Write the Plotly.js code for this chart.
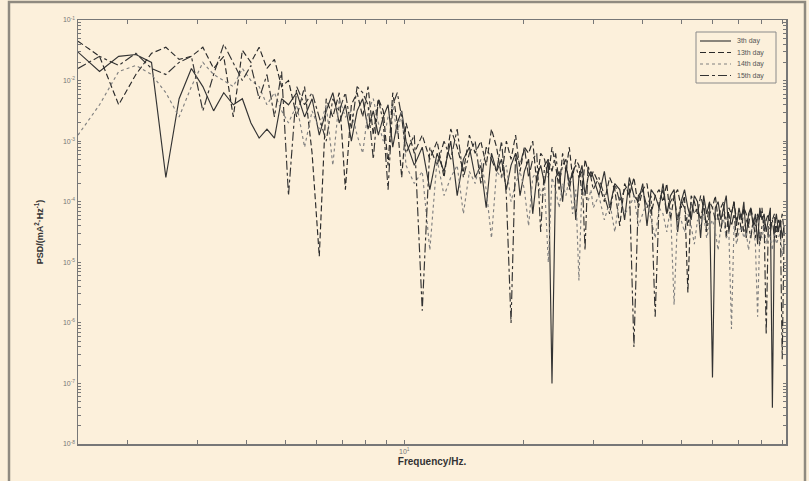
<!DOCTYPE html>
<html>
<head>
<meta charset="utf-8">
<script src="https://cdn.plot.ly/plotly-3.0.1.min.js"></script>
<style>html,body{margin:0;padding:0;background:#fcf0db;}#chart{width:809px;height:481px;}</style>
</head>
<body>
<div id="chart"></div>
<script>
// Frequency grid (Hz)
const freq = [
  1.5,1.7,1.9,2.1,2.3,2.5,2.7,2.9,3.1,3.3,3.5,3.7,3.9,4.1,4.3,4.5,4.7,4.9,
  5.1,5.35,5.6,5.85,6.1,6.35,6.6,6.85,7.1,7.35,7.6,7.85,8.1,8.35,8.6,8.85,9.1,9.35,9.6,9.85,
  10.1,10.6,11.1,11.6,12.1,12.6,13.1,13.6,14.1,14.6,15.1,15.6,16.1,16.6,17.1,17.6,18.1,18.6,19.1,19.6,
  20.1,20.6,21.1,21.6,22.1,22.6,23.1,23.6,24.1,24.6,25.1,25.6,26.1,26.6,27.1,27.6,28.1,28.6,29.1,29.6,
  30,31,32,33,34,35,36,37,38,39,40,41,42,43,44,45,46,47,48,49,50,51,52,53,54,55,56,57,58,59,
  60,61,62,63,64,65,66,67,68,69,70,71,72,73,74,75,76,77,78,79,80,81,82,83,84,85,86,87,88,89,90,91
];

// PSD values stored as log10 exponents
const day3_log10 = [
  -1.53,-1.85,-1.6,-1.57,-1.7,-3.6,-2.3,-1.8,-2.1,-2.5,-2.2,-2.4,-2.3,-2.7,-2.95,-2.8,-2.95,-2.3,
  -2.4,-2.2,-2.6,-2.3,-2.9,-2.5,-2.2,-2.7,-2.4,-3.0,-2.5,-2.3,-2.8,-2.5,-2.9,-2.6,-2.4,-3.1,-2.7,-2.5,
  -3.0,-3.4,-3.1,-3.8,-3.2,-3.5,-3.0,-3.9,-3.3,-3.1,-3.6,-3.4,-4.1,-3.2,-3.5,-3.3,-3.8,-3.4,-3.2,-3.9,
  -3.5,-3.3,-4.2,-3.6,-3.4,-3.7,-3.3,-7.0,-3.6,-3.5,-4.0,-3.4,-3.7,-3.5,-4.3,-3.6,-3.4,-3.9,-3.6,-3.5,
  -3.6,-3.9,-3.5,-4.1,-3.7,-3.8,-4.3,-3.6,-3.9,-4.0,-3.7,-4.4,-3.8,-3.9,-4.1,-3.7,-4.2,-3.9,-3.8,-4.5,
  -4.0,-3.8,-4.1,-4.3,-3.9,-4.0,-4.6,-3.9,-4.2,-4.0,-6.9,-4.1,-4.0,-4.3,-4.1,-3.9,-4.5,-4.2,-4.0,-4.4,
  -4.1,-4.3,-4.0,-4.6,-4.2,-4.1,-4.4,-4.2,-4.7,-4.1,-4.3,-4.2,-4.5,-4.3,-4.1,-7.4,-4.4,-4.2,-4.5,-4.3,-4.6,-4.4
];
const day13_log10 = [
  -1.35,-1.6,-2.4,-1.9,-1.55,-1.45,-1.65,-1.6,-1.45,-1.8,-1.6,-2.6,-1.5,-1.7,-1.45,-1.8,-1.65,-2.1,
  -2.0,-2.6,-2.1,-3.2,-4.9,-2.3,-2.6,-2.2,-3.8,-2.4,-2.2,-2.6,-2.1,-2.9,-2.3,-2.5,-3.4,-2.2,-2.7,-3.6,
  -2.7,-3.2,-2.9,-3.3,-3.0,-3.6,-2.8,-3.1,-3.5,-2.9,-3.2,-3.0,-3.4,-2.8,-3.1,-3.6,-3.0,-3.3,-2.9,-3.5,
  -3.1,-3.2,-3.0,-3.7,-3.2,-3.3,-3.6,-3.1,-3.4,-3.8,-3.2,-3.5,-3.1,-3.6,-3.3,-3.4,-3.9,-3.3,-3.5,-3.6,
  -3.5,-3.7,-4.0,-3.6,-3.8,-4.4,-3.7,-3.9,-3.6,-4.1,-3.8,-3.7,-4.2,-3.9,-3.8,-4.0,-3.7,-4.3,-3.9,-3.8,
  -4.1,-3.9,-5.5,-3.9,-4.0,-4.2,-3.9,-4.1,-4.4,-4.0,-4.1,-3.9,-4.3,-4.1,-4.0,-4.6,-4.1,-4.2,-4.0,-4.3,
  -4.2,-4.5,-4.1,-4.2,-4.4,-4.1,-4.3,-4.6,-4.2,-4.3,-4.1,-4.5,-4.3,-4.2,-4.4,-4.3,-4.2,-4.6,-4.3,-4.4,-4.2,-4.5
];
const day14_log10 = [
  -2.9,-2.4,-1.85,-1.75,-1.9,-2.2,-2.6,-2.1,-1.7,-1.9,-2.0,-2.1,-1.8,-2.0,-2.1,-2.4,-2.2,-2.5,
  -2.7,-2.4,-3.1,-2.5,-2.8,-2.4,-3.4,-2.3,-2.6,-2.5,-2.9,-3.2,-2.5,-2.3,-2.7,-3.0,-2.6,-2.4,-2.9,-2.5,
  -3.4,-3.7,-3.5,-4.8,-3.3,-3.9,-3.6,-3.4,-4.2,-3.5,-3.7,-3.3,-3.8,-4.6,-3.5,-3.6,-3.4,-4.0,-3.7,-3.5,
  -3.8,-4.4,-3.6,-3.5,-3.9,-3.7,-5.0,-3.6,-3.8,-4.1,-3.7,-3.9,-3.6,-4.2,-3.8,-5.3,-3.7,-3.9,-4.0,-3.8,
  -4.1,-3.9,-4.3,-4.0,-4.5,-3.9,-4.2,-4.1,-3.9,-4.4,-4.2,-4.0,-4.3,-4.6,-4.1,-4.2,-4.5,-4.1,-5.7,-4.2,
  -4.3,-4.5,-4.2,-4.4,-4.7,-4.3,-4.4,-4.2,-4.6,-4.4,-4.3,-4.5,-4.8,-4.4,-4.3,-4.6,-4.5,-6.1,-4.4,-4.7,
  -4.5,-4.4,-4.6,-4.5,-4.8,-4.5,-4.4,-4.7,-5.9,-4.5,-4.6,-4.4,-4.7,-4.5,-4.6,-4.8,-4.5,-4.7,-4.6,-4.5,-4.9,-4.6
];
const day15_log10 = [
  -1.8,-1.6,-1.75,-1.55,-1.8,-1.9,-1.7,-1.6,-2.5,-1.9,-1.4,-1.7,-2.0,-1.75,-2.3,-1.9,-2.6,-1.85,
  -3.9,-2.1,-2.4,-2.2,-2.6,-3.0,-2.3,-2.5,-2.2,-2.8,-2.1,-2.2,-2.4,-3.3,-2.3,-2.7,-3.8,-2.4,-2.2,-2.6,
  -3.2,-2.9,-5.8,-3.1,-3.4,-3.0,-3.3,-2.8,-3.6,-3.2,-3.0,-3.7,-3.1,-3.3,-3.5,-3.0,-3.9,-6.0,-3.2,-3.4,
  -3.1,-3.6,-3.3,-3.2,-4.5,-3.4,-3.3,-3.5,-3.2,-3.7,-3.4,-3.3,-3.8,-3.5,-3.4,-3.6,-3.5,-4.8,-3.4,-3.6,
  -3.8,-3.6,-3.9,-4.2,-3.7,-4.0,-3.8,-3.7,-6.4,-3.9,-3.8,-4.1,-3.9,-5.9,-4.0,-3.8,-4.2,-4.0,-3.9,-4.3,
  -4.0,-4.1,-4.4,-4.0,-4.2,-4.1,-4.3,-4.0,-4.5,-4.2,-4.1,-4.3,-4.2,-4.5,-4.1,-4.3,-4.2,-4.4,-4.2,-4.6,
  -4.3,-4.2,-4.5,-4.3,-4.4,-4.6,-4.3,-4.4,-4.2,-4.7,-4.4,-4.3,-6.2,-4.4,-4.5,-4.3,-4.6,-4.4,-4.5,-4.3,-6.6,-4.5
];

const seriesNames = ['3th day','13th day','14th day','15th day'];

const yTickVals = [1e-1,1e-2,1e-3,1e-4,1e-5,1e-6,1e-7,1e-8];
const yTickText = ['10<sup>-1</sup>','10<sup>-2</sup>','10<sup>-3</sup>','10<sup>-4</sup>','10<sup>-5</sup>','10<sup>-6</sup>','10<sup>-7</sup>','10<sup>-8</sup>'];
const xTickVals = [10];
const xTickText = ['10<sup>1</sup>'];
const xMinorVals = [2,3,4,5,6,7,8,9,20,30,40,50,60,70,80,90];

const toLin = a => a.map(v => Math.pow(10, v));

const styles = [
  {color:'#333333', dash:'solid', width:1.15},
  {color:'#2a2a2a', dash:'6px,3px', width:1.15},
  {color:'#808080', dash:'dot', width:1.15},
  {color:'#333333', dash:'dashdot', width:1.15}
];
const ys = [day3_log10, day13_log10, day14_log10, day15_log10];

const traces = ys.map((y, i) => ({
  x: freq, y: toLin(y), type: 'scatter', mode: 'lines',
  name: seriesNames[i], line: styles[i], showlegend: false
}));

// y minor tick positions (2..9 per decade) -> merged with majors, blank labels
const yMinorVals = [];
for (let e = -8; e < -1; e++) for (let m = 2; m <= 9; m++) yMinorVals.push(m * Math.pow(10, e));
const yAllVals = yTickVals.concat(yMinorVals);
const yAllText = yTickText.concat(yMinorVals.map(() => ''));
const xAllVals = xTickVals.concat(xMinorVals);
const xAllText = xTickText.concat(xMinorVals.map(() => ''));

// compact legend drawn in pixel-based paper coordinates
const L = 78, T = 20, W = 708, H = 424;
const px = x => (x - L) / W;
const py = y => (T + H - y) / H;
const legendRows = [41, 52.5, 64, 75.5];
const font = 'Liberation Sans, Arial, sans-serif';
const shapes = [{
  type: 'rect', xref: 'paper', yref: 'paper',
  x0: px(9), x1: px(805), y0: py(495), y1: py(2),
  line: {color: '#8f8a80', width: 2.5}, fillcolor: 'rgba(0,0,0,0)', layer: 'below'
}, {
  type: 'rect', xref: 'paper', yref: 'paper',
  x0: px(696), x1: px(776), y0: py(83), y1: py(32),
  line: {color: '#8a8a8a', width: 1}, fillcolor: '#fcf0db'
}];
const annotations = [];
legendRows.forEach((ry, i) => {
  shapes.push({type: 'line', xref: 'paper', yref: 'paper',
    x0: px(700), x1: px(731), y0: py(ry), y1: py(ry), line: styles[i]});
  annotations.push({xref: 'paper', yref: 'paper', x: px(735), y: py(ry),
    xanchor: 'left', yanchor: 'middle', showarrow: false, text: seriesNames[i],
    font: {family: font, size: 7, color: '#555'}});
});

const layout = {
  width: 809, height: 481,
  paper_bgcolor: '#fcf0db', plot_bgcolor: '#fcf0db',
  margin: {l: 78, r: 23, t: 20, b: 37},
  showlegend: false,
  xaxis: {
    type: 'log', range: [Math.log10(1.5), Math.log10(92)],
    tickmode: 'array', tickvals: xAllVals, ticktext: xAllText,
    ticks: 'inside', ticklen: 4, tickcolor: '#777',
    showline: true, linecolor: '#777', linewidth: 1.5, mirror: 'ticks',
    showgrid: false, zeroline: false,
    tickfont: {family: font, size: 7, color: '#777'},
    title: {text: '<b>Frequency/Hz.</b>', standoff: 4,
      font: {family: font, size: 10, color: '#333'}}
  },
  yaxis: {
    type: 'log', range: [-8, -1],
    tickmode: 'array', tickvals: yAllVals, ticktext: yAllText,
    ticks: 'inside', ticklen: 3, tickcolor: '#777',
    showline: true, linecolor: '#777', linewidth: 1.5, mirror: 'ticks',
    showgrid: false, zeroline: false,
    tickfont: {family: font, size: 7, color: '#777'},
    title: {text: '<b>PSD/(mA<sup>2</sup>·Hz<sup>-1</sup>)</b>', standoff: 18,
      font: {family: font, size: 9, color: '#333'}}
  },
  shapes: shapes,
  annotations: annotations
};

Plotly.newPlot('chart', traces, layout, {staticPlot: true, displayModeBar: false});
</script>
</body>
</html>
